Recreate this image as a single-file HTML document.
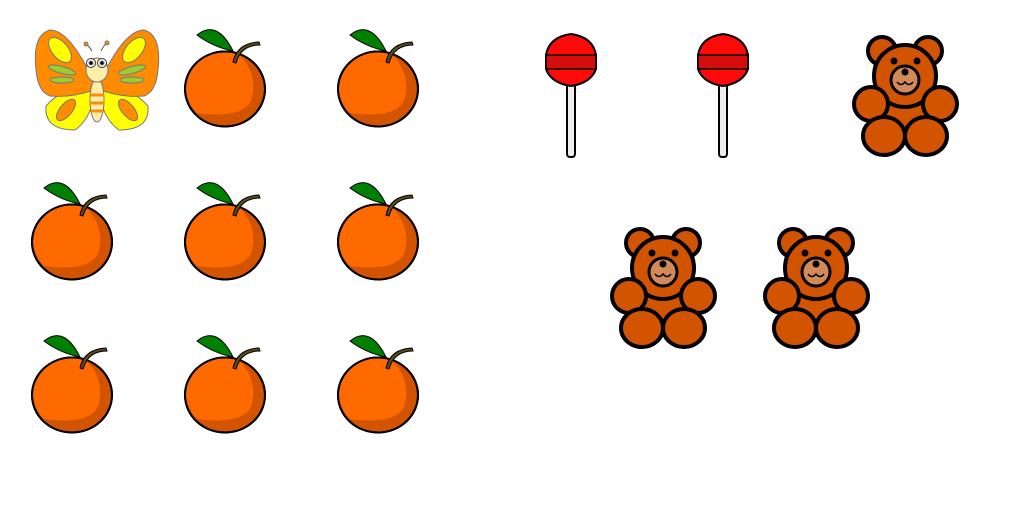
<!DOCTYPE html>
<html><head><meta charset="utf-8"><style>html,body{margin:0;padding:0;background:#fff}svg{display:block}</style></head>
<body>
<svg width="1024" height="512" viewBox="0 0 1024 512">
<defs>
<g id="orange">
<ellipse cx="0" cy="0" rx="40" ry="37.5" fill="#d35400" stroke="#000" stroke-width="2"/>
<path d="M-39,0 A40,37.5 0 0 1 14,-35 Q34,-14 26,12 Q16,30 -28,24 Q-38,14 -39,0Z" fill="#ff6a00"/>
<ellipse cx="0" cy="0" rx="40" ry="37.5" fill="none" stroke="#000" stroke-width="2"/>
<path d="M8,-27 Q12,-46 34,-47 L35,-44 Q16,-44 11,-26Z" fill="#5a4a1a" stroke="#000" stroke-width="1"/>
<path d="M8,-38 Q-8,-70 -28,-54 Q-12,-42 8,-38Z" fill="#008000" stroke="#000" stroke-width="1"/>
</g>
<g id="lolly">
<rect x="-4" y="20" width="8" height="76" rx="3" fill="#eee" stroke="#000" stroke-width="2"/>
<path d="M-25,-6 Q-22,-24 0,-27 Q22,-24 25,-6 L25,8 Q20,22 0,25 Q-20,22 -25,8Z" fill="#ff0a0a" stroke="#000" stroke-width="2"/>
<path d="M-25,-6 L25,-6 L25,8 L-25,8Z" fill="#d40d0d" stroke="#000" stroke-width="1.5"/>
</g>
<g id="bear" stroke="#000" stroke-width="4" fill="#d35400">
<circle cx="-23" cy="-45" r="14"/><circle cx="23" cy="-45" r="14"/>
<ellipse cx="0" cy="14" rx="34" ry="33"/>
<circle cx="0" cy="-20" r="31"/>
<circle cx="-34" cy="8" r="17"/><circle cx="35" cy="8" r="17"/>
<ellipse cx="-21" cy="40" rx="21" ry="19"/><ellipse cx="21" cy="40" rx="21" ry="19"/>
<circle cx="0" cy="-16" r="14" fill="#d38a5a" stroke-width="3"/>
<circle cx="-11" cy="-35" r="3.5" fill="#000" stroke="none"/><circle cx="12" cy="-35" r="3.5" fill="#000" stroke="none"/>
<circle cx="0" cy="-24" r="3.5" fill="#000" stroke="none"/>
<path d="M-8,-14 Q-4,-9 0,-14 Q4,-9 8,-14" fill="none" stroke-width="1.5"/>
</g>
</defs>
<g stroke="#777" stroke-width="1">
<path d="M92,78 Q60,90 46,106 Q44,130 75,130 Q92,118 95,90Z" fill="#ffff00"/>
<path d="M102,78 Q134,90 148,106 Q150,130 119,130 Q102,118 99,90Z" fill="#ffff00"/>
<path d="M94,82 Q70,30 50,30 Q32,35 36,70 Q38,92 50,96 Q70,98 94,90Z" fill="#ff8c00"/>
<path d="M100,82 Q124,30 144,30 Q162,35 158,70 Q156,92 144,96 Q124,98 100,90Z" fill="#ff8c00"/>
<ellipse cx="60" cy="50" rx="8" ry="15" transform="rotate(-40 60 50)" fill="#ffff00"/>
<ellipse cx="134" cy="50" rx="8" ry="15" transform="rotate(40 134 50)" fill="#ffff00"/>
<ellipse cx="66" cy="110" rx="6" ry="13" transform="rotate(40 66 110)" fill="#ff8c00"/>
<ellipse cx="128" cy="110" rx="6" ry="13" transform="rotate(-40 128 110)" fill="#ff8c00"/>
<ellipse cx="62" cy="70" rx="14" ry="3.5" transform="rotate(15 62 70)" fill="#9acd32"/>
<ellipse cx="62" cy="80" rx="12" ry="3" fill="#9acd32"/>
<ellipse cx="132" cy="70" rx="14" ry="3.5" transform="rotate(-15 132 70)" fill="#9acd32"/>
<ellipse cx="132" cy="80" rx="12" ry="3" fill="#9acd32"/>
<ellipse cx="97" cy="100" rx="7" ry="22" fill="#ffeeaa"/>
<path d="M90,95 L104,95 M90,103 L104,103 M91,111 L103,111" stroke="#ff8c00" stroke-width="3"/>
<ellipse cx="97" cy="70" rx="11" ry="12" fill="#ffeeaa"/>
<circle cx="91" cy="63" r="4.5" fill="#fff" stroke="#333"/><circle cx="102" cy="63" r="4.5" fill="#fff" stroke="#333"/>
<circle cx="91" cy="63" r="2" fill="#000"/><circle cx="102" cy="63" r="2" fill="#000"/>
<path d="M92,51 Q88,45 86,44 M101,51 Q104,45 107,43" fill="none" stroke="#555"/>
<circle cx="86" cy="44" r="2" fill="#ff8c00"/><circle cx="107" cy="43" r="2" fill="#ff8c00"/>
</g>
<use href="#orange" x="225" y="89"/>
<use href="#orange" x="378" y="89"/>
<use href="#orange" x="72" y="242"/>
<use href="#orange" x="225" y="242"/>
<use href="#orange" x="378" y="242"/>
<use href="#orange" x="72" y="395"/>
<use href="#orange" x="225" y="395"/>
<use href="#orange" x="378" y="395"/>
<use href="#lolly" x="571" y="61"/>
<use href="#lolly" x="723" y="61"/>
<use href="#bear" x="905" y="96"/>
<use href="#bear" x="663" y="288"/>
<use href="#bear" x="816" y="288"/>
</svg>
</body></html>
